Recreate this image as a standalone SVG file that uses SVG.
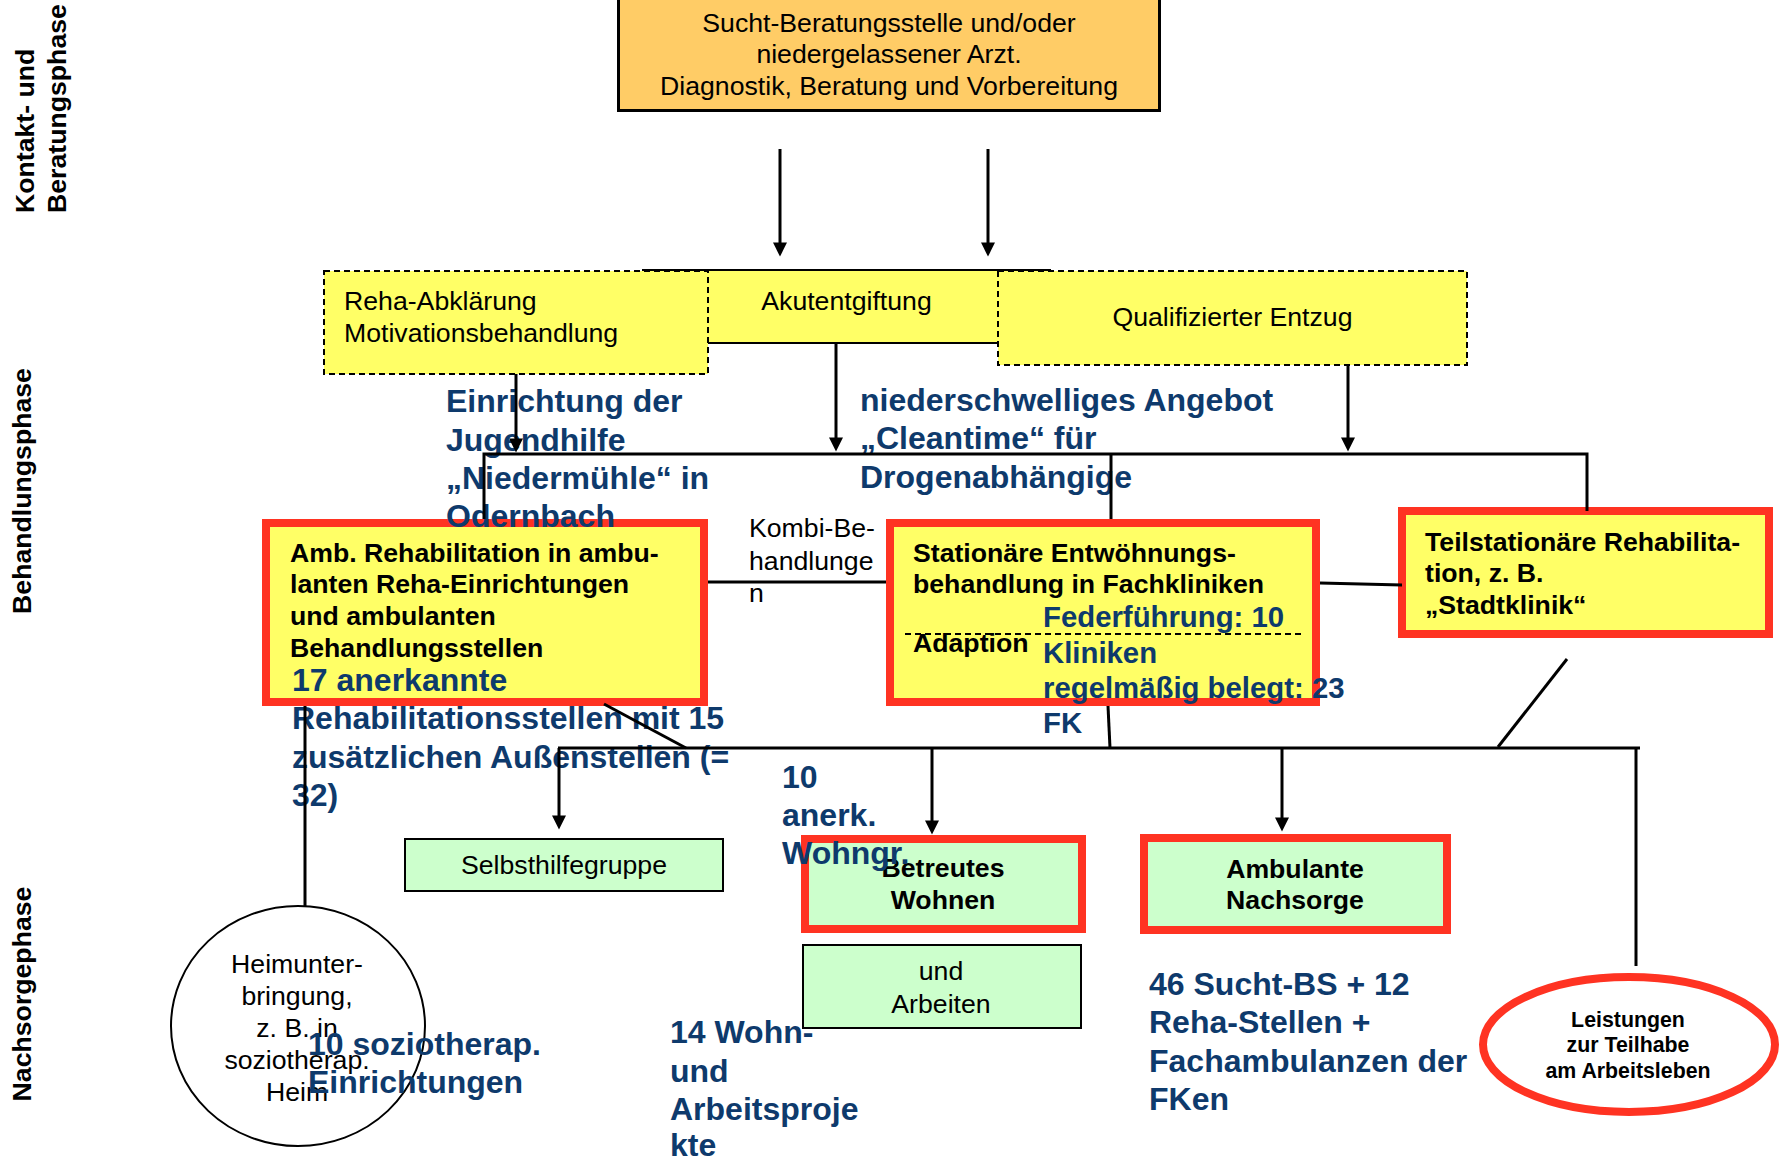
<svg xmlns="http://www.w3.org/2000/svg" width="1783" height="1157" viewBox="0 0 1783 1157">
<defs>
<style>
text{font-family:"Liberation Sans",Arial,sans-serif;fill:#000}
.r{font-size:26.67px}
.b{font-size:26.67px;font-weight:bold}
.s{font-size:21.33px;font-weight:bold}
.bl{font-size:32px;font-weight:bold;fill:#0E3A6C}
.bm{font-size:29.33px;font-weight:bold;fill:#0E3A6C}
.c{text-anchor:middle}
.yel{fill:#FFFF66}
.dash{stroke:#000;stroke-width:2;stroke-dasharray:6 4}
.red{stroke:#FF3322;stroke-width:8}
.grn{fill:#CCFFCC}
.ln{fill:none;stroke:#000;stroke-width:3}
.ar{marker-end:url(#ah)}
</style>
<marker id="ah" viewBox="0 0 10 10" refX="6.7" refY="5" markerWidth="15" markerHeight="14" markerUnits="userSpaceOnUse" orient="auto">
<path d="M0,0 L10,5 L0,10 z" fill="#000"/>
</marker>
</defs>
<rect width="1783" height="1157" fill="#fff"/>

<g id="phase-labels">
<text class="b" transform="translate(34,213) rotate(-90)">Kontakt- und</text>
<text class="b" transform="translate(66,213) rotate(-90)">Beratungsphase</text>
<text class="b c" transform="translate(31,491) rotate(-90)">Behandlungsphase</text>
<text class="b c" transform="translate(31,994) rotate(-90)">Nachsorgephase</text>
</g>

<g id="beratungsstelle">
<rect x="618.5" y="-10" width="541" height="120.5" fill="#FFCC66" stroke="#000" stroke-width="3"/>
<text class="r c" x="889" y="32">Sucht-Beratungsstelle und/oder</text>
<text class="r c" x="889" y="63">niedergelassener Arzt.</text>
<text class="r c" x="889" y="95">Diagnostik, Beratung und Vorbereitung</text>
</g>

<g id="akutentgiftung">
<rect x="643" y="270" width="407" height="73" class="yel" stroke="#000" stroke-width="2"/>
<text class="r c" x="846.5" y="310">Akutentgiftung</text>
</g>

<g id="reha-abklaerung">
<rect x="324" y="271" width="384" height="103" class="yel dash"/>
<text class="r" x="344" y="310">Reha-Abklärung</text>
<text class="r" x="344" y="342">Motivationsbehandlung</text>
</g>

<g id="qualifizierter-entzug">
<rect x="998" y="271" width="469" height="94" class="yel dash"/>
<text class="r c" x="1232.5" y="326">Qualifizierter Entzug</text>
</g>

<g id="amb-reha">
<rect x="266" y="523" width="438" height="179" class="yel red"/>
<text class="b" x="290" y="562">Amb. Rehabilitation in ambu-</text>
<text class="b" x="290" y="593">lanten Reha-Einrichtungen</text>
<text class="b" x="290" y="625">und ambulanten</text>
<text class="b" x="290" y="657">Behandlungsstellen</text>
</g>

<g id="stationaer">
<rect x="890" y="523" width="426" height="179" class="yel red"/>
<text class="b" x="913" y="562">Stationäre Entwöhnungs-</text>
<text class="b" x="913" y="593">behandlung in Fachkliniken</text>
<line x1="905" y1="634" x2="1305" y2="634" class="dash"/>
<text class="b" x="913" y="652">Adaption</text>
</g>

<g id="teilstationaer">
<rect x="1402" y="511" width="367" height="123" class="yel red"/>
<text class="b" x="1425" y="551">Teilstationäre Rehabilita-</text>
<text class="b" x="1425" y="582">tion, z. B.</text>
<text class="b" x="1425" y="614">„Stadtklinik“</text>
</g>

<g id="kombi">
<text class="r" x="749" y="537">Kombi-Be-</text>
<text class="r" x="749" y="570">handlunge</text>
<text class="r" x="749" y="602">n</text>
</g>

<g id="selbsthilfegruppe">
<rect x="405" y="839" width="318" height="52" class="grn" stroke="#000" stroke-width="2"/>
<text class="r c" x="564" y="874">Selbsthilfegruppe</text>
</g>

<g id="betreutes-wohnen">
<rect x="805" y="839" width="277" height="90" class="grn red"/>
<text class="b c" x="943" y="877">Betreutes</text>
<text class="b c" x="943" y="909">Wohnen</text>
</g>

<g id="und-arbeiten">
<rect x="803" y="945" width="278" height="83" class="grn" stroke="#000" stroke-width="2"/>
<text class="r c" x="941" y="980">und</text>
<text class="r c" x="941" y="1013">Arbeiten</text>
</g>

<g id="ambulante-nachsorge">
<rect x="1144" y="838" width="303" height="92" class="grn red"/>
<text class="b c" x="1295" y="878">Ambulante</text>
<text class="b c" x="1295" y="909">Nachsorge</text>
</g>

<g id="heimunterbringung">
<ellipse cx="298" cy="1026" rx="127" ry="120" fill="#fff" stroke="#000" stroke-width="2"/>
<text class="r c" x="297" y="973">Heimunter-</text>
<text class="r c" x="297" y="1005">bringung,</text>
<text class="r c" x="297" y="1037">z. B. in</text>
<text class="r c" x="297" y="1069">soziotherap.</text>
<text class="r c" x="297" y="1101">Heim</text>
</g>

<g id="teilhabe">
<ellipse cx="1629" cy="1044.5" rx="146" ry="67.5" fill="#fff" class="red"/>
<text class="s c" x="1628" y="1027">Leistungen</text>
<text class="s c" x="1628" y="1052">zur Teilhabe</text>
<text class="s c" x="1628" y="1078">am Arbeitsleben</text>
</g>

<g id="annotations">
<text class="bl" x="446" y="412">Einrichtung der</text>
<text class="bl" x="446" y="451">Jugendhilfe</text>
<text class="bl" x="446" y="489">„Niedermühle“ in</text>
<text class="bl" x="446" y="527">Odernbach</text>
<text class="bl" x="860" y="411">niederschwelliges Angebot</text>
<text class="bl" x="860" y="449">„Cleantime“ für</text>
<text class="bl" x="860" y="488">Drogenabhängige</text>
<text class="bl" x="292" y="691">17 anerkannte</text>
<text class="bl" x="292" y="729">Rehabilitationsstellen mit 15</text>
<text class="bl" x="292" y="768">zusätzlichen Außenstellen (=</text>
<text class="bl" x="292" y="806">32)</text>
<text class="bm" x="1043" y="627">Federführung: 10</text>
<text class="bm" x="1043" y="663">Kliniken</text>
<text class="bm" x="1043" y="698">regelmäßig belegt: 23</text>
<text class="bm" x="1043" y="733">FK</text>
<text class="bl" x="782" y="788">10</text>
<text class="bl" x="782" y="826">anerk.</text>
<text class="bl" x="782" y="864">Wohngr.</text>
<text class="bl" x="1149" y="995">46 Sucht-BS + 12</text>
<text class="bl" x="1149" y="1033">Reha-Stellen +</text>
<text class="bl" x="1149" y="1072">Fachambulanzen der</text>
<text class="bl" x="1149" y="1110">FKen</text>
<text class="bl" x="308" y="1055">10 soziotherap.</text>
<text class="bl" x="308" y="1093">Einrichtungen</text>
<text class="bl" x="670" y="1043">14 Wohn-</text>
<text class="bl" x="670" y="1082">und</text>
<text class="bl" x="670" y="1120">Arbeitsproje</text>
<text class="bl" x="670" y="1156">kte</text>
</g>

<g id="connectors">
<line x1="780" y1="149" x2="780" y2="252" class="ln ar"/>
<line x1="988" y1="149" x2="988" y2="252" class="ln ar"/>
<line x1="516" y1="374" x2="516" y2="448" class="ln ar"/>
<line x1="836" y1="343" x2="836" y2="447" class="ln ar"/>
<line x1="1348" y1="365" x2="1348" y2="447" class="ln ar"/>
<path d="M484,519 V454 H1587 V511" class="ln"/>
<line x1="1111" y1="454" x2="1111" y2="519" class="ln"/>
<line x1="708" y1="582" x2="886" y2="582" class="ln"/>
<line x1="1320" y1="583" x2="1402" y2="585" class="ln"/>
<line x1="604" y1="704" x2="686" y2="748" class="ln"/>
<path d="M558,748 H1640 M1636,748 V966" class="ln"/>
<line x1="1108" y1="706" x2="1110" y2="748" class="ln"/>
<line x1="1567" y1="659" x2="1498" y2="747" class="ln"/>
<line x1="305" y1="706" x2="305" y2="906" class="ln"/>
<line x1="559" y1="748" x2="559" y2="825" class="ln ar"/>
<line x1="932" y1="748" x2="932" y2="830" class="ln ar"/>
<line x1="1282" y1="748" x2="1282" y2="827" class="ln ar"/>
</g>
</svg>
